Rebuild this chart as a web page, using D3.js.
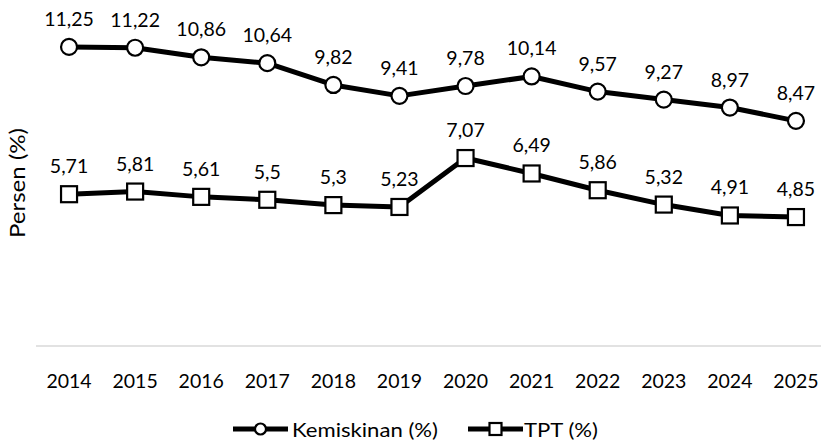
<!DOCTYPE html>
<html>
<head>
<meta charset="utf-8">
<script src="https://cdn.jsdelivr.net/npm/d3@7"></script>
<style>
  body { margin: 0; background: #fff; }
  text { font-family: Lato, "Open Sans", sans-serif; fill: #000; }
</style>
</head>
<body>
<svg id="chart" width="821" height="446"></svg>
<script>
  'use strict';

  var years = ['2014', '2015', '2016', '2017', '2018', '2019', '2020', '2021', '2022', '2023', '2024', '2025'];
  var kemiskinan = [11.25, 11.22, 10.86, 10.64, 9.82, 9.41, 9.78, 10.14, 9.57, 9.27, 8.97, 8.47];
  var tpt = [5.71, 5.81, 5.61, 5.5, 5.3, 5.23, 7.07, 6.49, 5.86, 5.32, 4.91, 4.85];
  var seriesNames = ['Kemiskinan (%)', 'TPT (%)'];

  var svg = d3.select('#chart');

  var x = d3.scalePoint()
    .domain(years)
    .range([36, 829])
    .padding(0.5);

  var y = d3.scaleLinear()
    .domain([0, 12])
    .range([346, 27]);

  function fmt(v) {
    return String(v).replace('.', ',');
  }

  // baseline
  svg.append('line')
    .attr('x1', 36).attr('x2', 821)
    .attr('y1', y(0)).attr('y2', y(0))
    .attr('stroke', '#d9d9d9')
    .attr('stroke-width', 1.5);

  // year labels
  svg.append('g')
    .selectAll('text')
    .data(years)
    .enter()
    .append('text')
      .attr('x', function (d) { return x(d); })
      .attr('y', 388)
      .attr('text-anchor', 'middle')
      .style('font-size', '19.5px')
      .text(function (d) { return d; });

  // y title
  svg.append('text')
    .attr('transform', 'translate(25,183) rotate(-90)')
    .attr('text-anchor', 'middle')
    .style('font-size', '21px')
    .attr('textLength', 110)
    .attr('lengthAdjust', 'spacingAndGlyphs')
    .text('Persen (%)');

  var line = d3.line()
    .x(function (d, i) { return x(years[i]); })
    .y(function (d) { return y(d); });

  function drawMarker(g, shape, cx, cy) {
    if (shape === 'circle') {
      g.append('circle')
        .attr('cx', cx).attr('cy', cy).attr('r', 8)
        .attr('fill', '#fff').attr('stroke', '#000').attr('stroke-width', 2.2);
    } else {
      g.append('rect')
        .attr('x', cx - 8).attr('y', cy - 8)
        .attr('width', 16).attr('height', 16)
        .attr('fill', '#fff').attr('stroke', '#000').attr('stroke-width', 2.2);
    }
  }

  [[kemiskinan, 'circle'], [tpt, 'square']].forEach(function (s) {
    var values = s[0], shape = s[1];
    var g = svg.append('g');

    g.append('path')
      .datum(values)
      .attr('d', line)
      .attr('fill', 'none')
      .attr('stroke', '#000')
      .attr('stroke-width', 5)
      .attr('stroke-linejoin', 'round');

    values.forEach(function (v, i) {
      drawMarker(g, shape, x(years[i]), y(v));
    });

    g.selectAll('text.lbl')
      .data(values)
      .enter()
      .append('text')
        .attr('class', 'lbl')
        .attr('x', function (d, i) { return x(years[i]); })
        .attr('y', function (d) { return y(d) - 21; })
        .attr('text-anchor', 'middle')
        .style('font-size', '19.5px')
        .text(fmt);
  });

  // legend
  var legend = svg.append('g');
  var legendItems = [
    {name: seriesNames[0], shape: 'circle', x0: 233, tx: 292, w: 146},
    {name: seriesNames[1], shape: 'square', x0: 468, tx: 524, w: 74}
  ];
  legendItems.forEach(function (it) {
    legend.append('line')
      .attr('x1', it.x0).attr('x2', it.x0 + 55)
      .attr('y1', 429).attr('y2', 429)
      .attr('stroke', '#000').attr('stroke-width', 5);
    if (it.shape === 'circle') {
      legend.append('circle')
        .attr('cx', it.x0 + 27.5).attr('cy', 429).attr('r', 5.5)
        .attr('fill', '#fff').attr('stroke', '#000').attr('stroke-width', 2.2);
    } else {
      legend.append('rect')
        .attr('x', it.x0 + 21.5).attr('y', 423)
        .attr('width', 12).attr('height', 12)
        .attr('fill', '#fff').attr('stroke', '#000').attr('stroke-width', 2.2);
    }
    legend.append('text')
      .attr('x', it.tx).attr('y', 437)
      .style('font-size', '20px')
      .attr('textLength', it.w)
      .attr('lengthAdjust', 'spacingAndGlyphs')
      .text(it.name);
  });
</script>
</body>
</html>
